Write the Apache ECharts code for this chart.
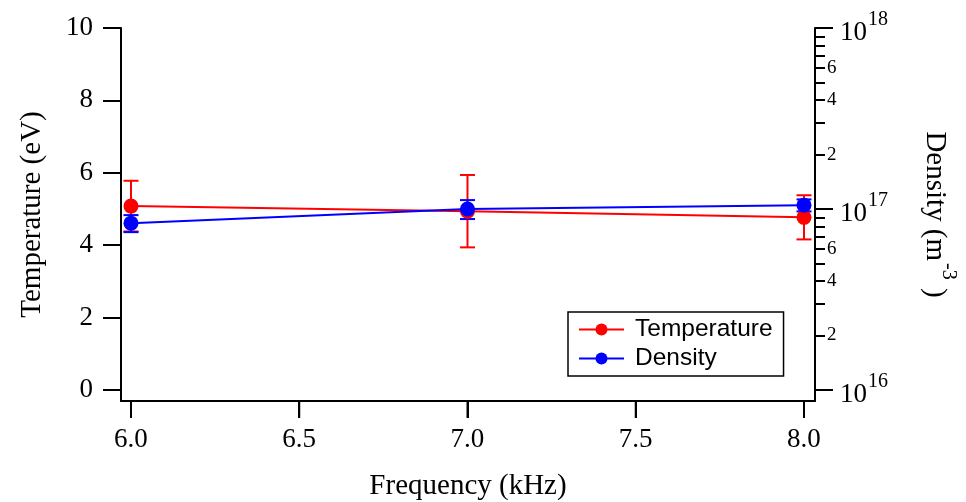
<!DOCTYPE html>
<html>
<head>
<meta charset="utf-8">
<script src="https://cdn.jsdelivr.net/npm/echarts@6/dist/echarts.min.js"></script>
<style>
html,body{margin:0;padding:0;background:#fff;}
#chart{width:966px;height:502px;}
</style>
</head>
<body>
<div id="chart"></div>
<script>
// ---- data ----
const frequency = [6.0, 7.0, 8.0];
const temperature = [5.08, 4.94, 4.77];
const temperatureErr = [0.70, 1.00, 0.61];
const density = [8.35e16, 1.0e17, 1.05e17];
const densityErr = [0.9e16, 1.2e16, 0.8e16];
const xTicks = [6.0, 6.5, 7.0, 7.5, 8.0];
const tempTicks = [0, 2, 4, 6, 8, 10];
const densMajorTicks = [1e16, 1e17, 1e18];
const densMinorTicks = [2e16,3e16,4e16,5e16,6e16,7e16,8e16,9e16,2e17,3e17,4e17,5e17,6e17,7e17,8e17,9e17];
const densMinorLabels = [2e16, 4e16, 6e16, 2e17, 4e17, 6e17];

const SERIF = '"Liberation Serif", "Times New Roman", serif';
const SANS = '"Liberation Sans", Arial, sans-serif';

function errorBarSeries(name, yIdx, vals, errs, color) {
  return {
    type: 'custom',
    name: name,
    yAxisIndex: yIdx,
    z: 2,
    silent: true,
    data: frequency.map((f, i) => [f, vals[i] - errs[i], vals[i] + errs[i]]),
    renderItem: function (params, api) {
      const lo = api.coord([api.value(0), api.value(1)]);
      const hi = api.coord([api.value(0), api.value(2)]);
      const hw = 7.5;
      const st = { stroke: color, lineWidth: 2 };
      return {
        type: 'group',
        children: [
          { type: 'line', shape: { x1: lo[0], y1: lo[1], x2: hi[0], y2: hi[1] }, style: st },
          { type: 'line', shape: { x1: hi[0] - hw, y1: hi[1], x2: hi[0] + hw, y2: hi[1] }, style: st },
          { type: 'line', shape: { x1: lo[0] - hw, y1: lo[1], x2: lo[0] + hw, y2: lo[1] }, style: st }
        ]
      };
    }
  };
}

const chart = echarts.init(document.getElementById('chart'), null, { renderer: 'canvas' });
function axisLine() { return { show: true, onZero: false, lineStyle: { color: '#000', width: 2 } }; }
function tickStyle() { return { color: '#000', width: 2 }; }

chart.setOption({
  animation: false,
  backgroundColor: '#fff',
  grid: { left: 121, right: 151, top: 28, bottom: 101, containLabel: false, outerBoundsMode: 'none' },
  legend: {
    data: ['Temperature', 'Density'],
    orient: 'vertical',
    left: 568, top: 312,
    padding: [5, 11, 5, 10],
    itemGap: 4,
    itemWidth: 45, itemHeight: 15,
    borderColor: '#000', borderWidth: 1.5,
    backgroundColor: '#fff',
    textStyle: { fontFamily: SANS, fontSize: 24.5, color: '#000', padding: [0, 0, 0, 6] }
  },
  xAxis: {
    type: 'value',
    position: 'bottom',
    min: 5.9703, max: 8.0327,
    axisLine: axisLine(),
    splitLine: { show: false },
    axisTick: { show: true, inside: false, customValues: xTicks, length: 17, lineStyle: tickStyle() },
    axisLabel: { customValues: xTicks, formatter: v => v.toFixed(1), margin: 25,
      fontFamily: SERIF, fontSize: 27, color: '#000' },
    name: 'Frequency (kHz)', nameLocation: 'middle', nameGap: 71, nameMoveOverlap: false,
    nameTextStyle: { fontFamily: SERIF, fontSize: 29, color: '#000' }
  },
  yAxis: [
    {
      type: 'value', position: 'left',
      min: -0.304, max: 10,
      axisLine: axisLine(),
      splitLine: { show: false },
      axisTick: { show: true, customValues: tempTicks, length: 18, lineStyle: tickStyle() },
      axisLabel: { customValues: tempTicks, margin: 28, fontFamily: SERIF, fontSize: 27, color: '#000' },
      name: 'Temperature (eV)', nameLocation: 'middle', nameGap: 74, nameRotate: 90,
      nameTextStyle: { fontFamily: SERIF, fontSize: 29, color: '#000' }
    },
    {
      type: 'log', logBase: 10, position: 'right',
      min: 8.69e15, max: 1.0005e18,
      axisLine: axisLine(),
      splitLine: { show: false },
      minorTick: { show: false },
      axisTick: { show: true, customValues: densMajorTicks, length: 18, lineStyle: tickStyle() },
      axisLabel: {
        customValues: densMajorTicks, margin: 25,
        formatter: v => '{b|10}{s|' + Math.round(Math.log10(v)) + '}',
        rich: {
          b: { fontFamily: SERIF, fontSize: 27, color: '#000', verticalAlign: 'bottom' },
          s: { fontFamily: SERIF, fontSize: 20, color: '#000', verticalAlign: 'bottom', padding: [0, 0, 17, 1] }
        }
      },
      name: '{b|Density (m}{s|-3}{b| )}', nameLocation: 'middle', nameGap: 105, nameRotate: -90,
      nameTextStyle: {
        rich: {
          b: { fontFamily: SERIF, fontSize: 29, color: '#000', verticalAlign: 'bottom' },
          s: { fontFamily: SERIF, fontSize: 20, color: '#000', verticalAlign: 'bottom', padding: [0, 1, 18, 2] }
        }
      }
    },
    {
      type: 'log', logBase: 10, position: 'right',
      min: 8.69e15, max: 1.0005e18,
      axisLine: { show: false, onZero: false },
      splitLine: { show: false },
      minorTick: { show: false },
      axisTick: { show: true, customValues: densMinorTicks, length: 10, lineStyle: tickStyle() },
      axisLabel: {
        customValues: densMinorLabels, margin: 12,
        formatter: v => String(Math.round(v / Math.pow(10, Math.floor(Math.log10(v) + 1e-9)))),
        fontFamily: SERIF, fontSize: 19, color: '#000'
      }
    }
  ],
  series: [
    {
      // x-axis tick marks, placed through the x scale at the bottom edge of the grid
      type: 'custom',
      name: 'xTickMarks',
      silent: true,
      z: 5,
      clip: false,
      yAxisIndex: 0,
      data: xTicks.map(v => [v, 0]),
      renderItem: function (params, api) {
        const x = api.coord([api.value(0), api.value(1)])[0];
        const y0 = params.coordSys.y + params.coordSys.height;
        return {
          type: 'line',
          shape: { x1: x, y1: y0, x2: x, y2: y0 + 17 },
          style: { stroke: '#000', lineWidth: 2 }
        };
      }
    },
    errorBarSeries('TempErr', 0, temperature, temperatureErr, '#ff0000'),
    {
      type: 'line', name: 'Temperature', yAxisIndex: 0,
      data: frequency.map((f, i) => [f, temperature[i]]),
      symbol: 'circle', symbolSize: 15,
      lineStyle: { color: '#ff0000', width: 2 },
      itemStyle: { color: '#ff0000' }
    },
    errorBarSeries('DensErr', 1, density, densityErr, '#0000ff'),
    {
      type: 'line', name: 'Density', yAxisIndex: 1,
      data: frequency.map((f, i) => [f, density[i]]),
      symbol: 'circle', symbolSize: 15,
      lineStyle: { color: '#0000ff', width: 2 },
      itemStyle: { color: '#0000ff' }
    }
  ]
});
</script>
</body>
</html>
